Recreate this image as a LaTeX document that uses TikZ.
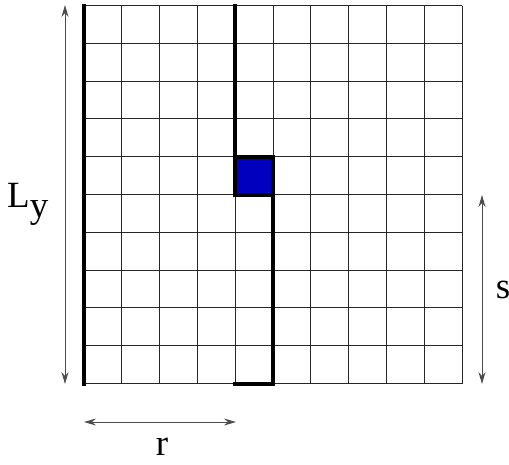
\documentclass[tikz,border=0pt]{standalone}
\usepackage{fontspec}
\setmainfont{Liberation Serif}
\usetikzlibrary{arrows.meta}
\definecolor{sqblue}{RGB}{0,0,190}
\tikzset{
  gridline/.style={line width=1pt, black!85},
  thickline/.style={line width=4pt, black, line cap=rect},
  dimarrow/.style={line width=1pt, black!70, {Stealth[length=12pt,width=7pt,inset=4pt]}-{Stealth[length=12pt,width=7pt,inset=4pt]}},
  lbl/.style={inner sep=0pt, font=\fontsize{37}{40}\selectfont}
}
\begin{document}
\begin{tikzpicture}[x=1pt,y=-1pt]
\useasboundingbox (0,0) rectangle (509,464);
\def\xo{84}\def\yo{5.5}\def\c{37.8}
% grid
\foreach \i in {0,...,10}{
  \draw[gridline] ({\xo+\i*\c},\yo) -- ({\xo+\i*\c},{\yo+10*\c});
  \draw[gridline] (\xo,{\yo+\i*\c}) -- ({\xo+10*\c},{\yo+\i*\c});
}
% blue square
\coordinate (sqA) at ({\xo+4*\c},{\yo+4*\c});
\coordinate (sqB) at ({\xo+5*\c},{\yo+5*\c});
\fill[sqblue] (sqA) rectangle (sqB);
\draw[thickline] (sqA) rectangle (sqB);
% thick boundary lines
\draw[thickline] (\xo,\yo) -- (\xo,{\yo+10*\c});
\draw[thickline] ({\xo+4*\c},\yo) -- (sqA);
\draw[thickline] ({\xo+5*\c},{\yo+5*\c}) -- ({\xo+5*\c},{\yo+10*\c}) -- ({\xo+4*\c},{\yo+10*\c});
% dimension arrows
\coordinate (LyT) at (65,5);
\coordinate (LyB) at (65,384);
\draw[dimarrow] (LyT) -- (LyB);
\coordinate (sT) at (482,195);
\coordinate (sB) at (482,384);
\draw[dimarrow] (sT) -- (sB);
\coordinate (rL) at (84,422);
\coordinate (rR) at (236,422);
\draw[dimarrow] (rL) -- (rR);
% labels
\node[lbl, anchor=base west] (Ly) at (7,207) {L\raisebox{-10pt}{y}};
\node[lbl, anchor=base] (s) at (503,298) {s};
\node[lbl, anchor=base] (r) at (162,455) {r};
\end{tikzpicture}
\end{document}
